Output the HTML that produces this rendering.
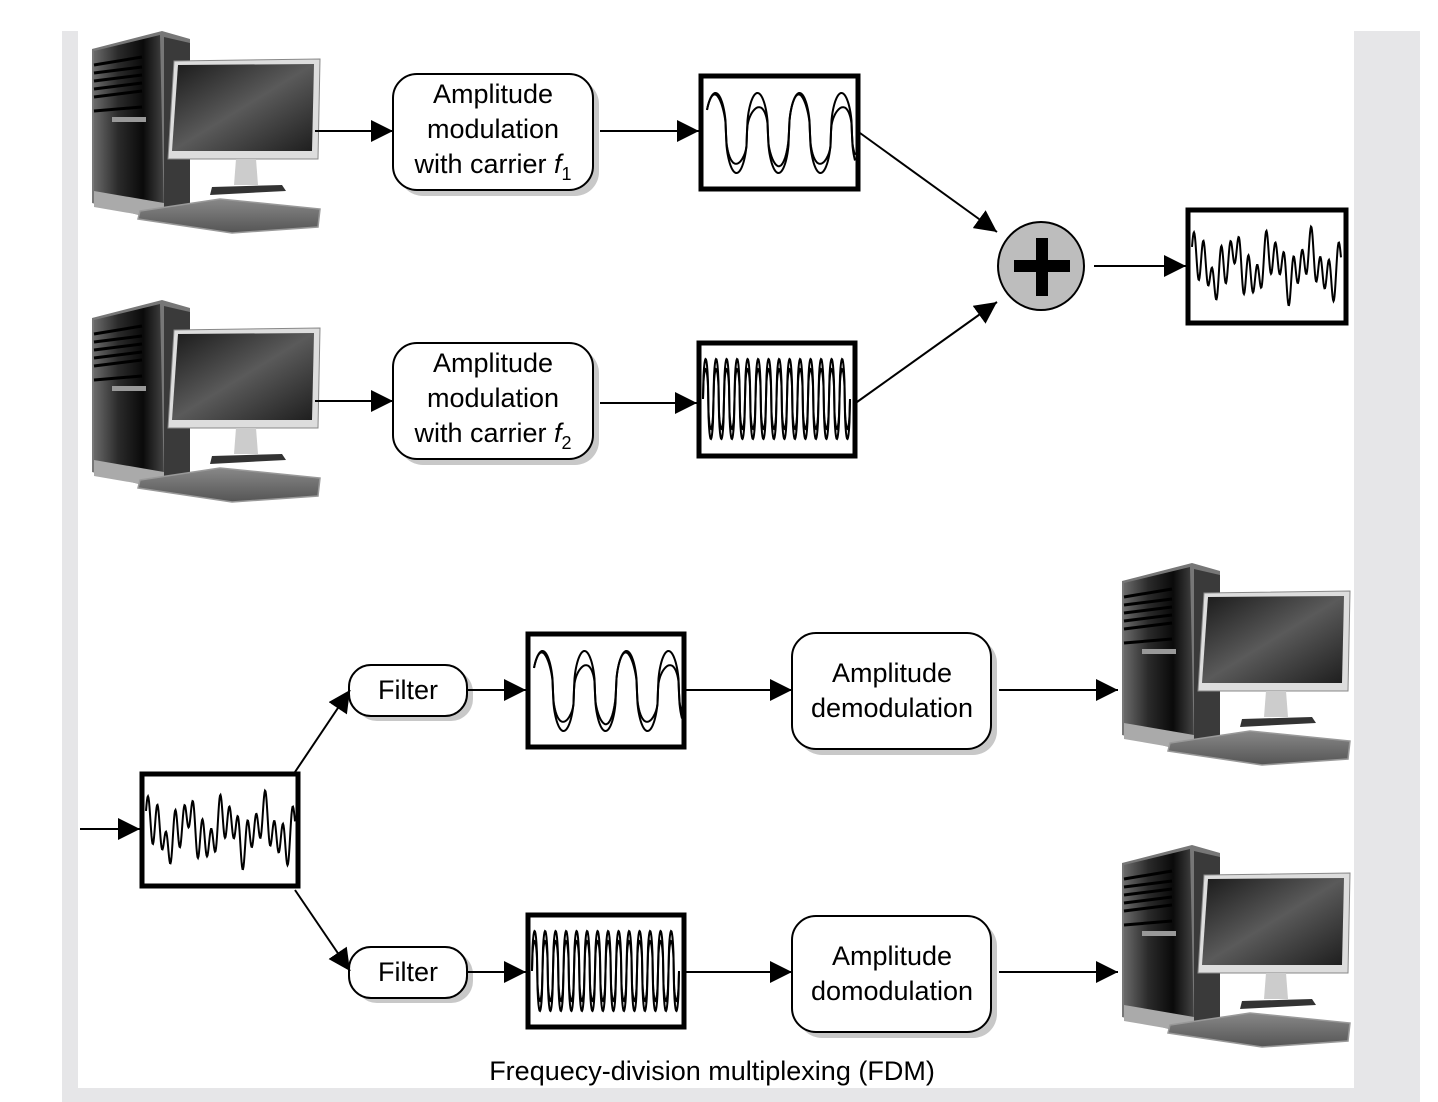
<!DOCTYPE html>
<html><head><meta charset="utf-8">
<style>
html,body{margin:0;padding:0;background:#fff;}
body{width:1438px;height:1102px;overflow:hidden;position:relative;font-family:"Liberation Sans",sans-serif;}
svg{position:absolute;left:0;top:0;}
</style></head>
<body>
<svg id="s" width="1438" height="1102" viewBox="0 0 1438 1102" xmlns="http://www.w3.org/2000/svg">
<defs>
<marker id="ah" markerWidth="22" markerHeight="22" refX="20" refY="10" orient="auto" markerUnits="userSpaceOnUse" viewBox="0 0 20 20">
<path d="M0,0 L20,10 L0,20 z" fill="#000"/></marker>
<linearGradient id="tower" x1="0" x2="1" y1="0" y2="0">
<stop offset="0" stop-color="#6a6a6a"/><stop offset="0.35" stop-color="#2a2a2a"/><stop offset="0.7" stop-color="#0a0a0a"/><stop offset="1" stop-color="#444"/></linearGradient>
<linearGradient id="scr" x1="0" y1="0" x2="1" y2="1">
<stop offset="0" stop-color="#1a1a1a"/><stop offset="0.5" stop-color="#5a5a5a"/><stop offset="1" stop-color="#1e1e1e"/></linearGradient>
<linearGradient id="kb" x1="0" y1="0" x2="0" y2="1">
<stop offset="0" stop-color="#888"/><stop offset="1" stop-color="#555"/></linearGradient>
<g id="pc">
<path d="M0,18 L70,0 L98,8 L98,178 L70,190 L0,172 z" fill="#777"/>
<path d="M2,20 L68,4 L72,186 L2,170 z" fill="url(#tower)"/>
<path d="M72,6 L98,12 L98,176 L72,186 z" fill="#3a3a3a"/>
<g stroke="#000" stroke-width="3" fill="none">
<path d="M2,34 L50,26"/><path d="M2,42 L50,36"/><path d="M2,50 L50,44"/><path d="M2,58 L50,52"/><path d="M2,66 L50,60"/><path d="M2,80 L50,76"/></g>
<rect x="20" y="86" width="34" height="5" fill="#999"/>
<path d="M2,160 L72,172 L72,188 L2,176 z" fill="#aaa"/>
<path d="M82,30 L228,28 L226,128 L76,128 z" fill="#ddd" stroke="#888" stroke-width="1"/>
<path d="M86,34 L222,33 L220,120 L80,120 z" fill="url(#scr)"/>
<path d="M144,128 L164,128 L166,154 L142,154 z" fill="#ccc"/>
<path d="M120,156 L190,154 L194,160 L118,164 z" fill="#333"/>
<path d="M48,180 L128,168 L228,178 L226,196 L140,202 L46,188 z" fill="url(#kb)" stroke="#999" stroke-width="1.5"/>
</g>
</defs>
<rect x="62" y="31" width="1358" height="1071" fill="#e6e6e8"/>
<rect x="78" y="31" width="1276" height="1057" fill="#fff"/>

<use href="#pc" x="92" y="31"/>
<use href="#pc" x="92" y="300"/>
<use href="#pc" x="1122" y="563"/>
<use href="#pc" x="1122" y="845"/>

<g fill="#c8c8c8">
<rect x="399" y="80" width="200" height="116" rx="24"/>
<rect x="399" y="349" width="200" height="116" rx="24"/>
<rect x="355" y="670" width="118" height="51" rx="22"/>
<rect x="355" y="952" width="118" height="51" rx="22"/>
<rect x="798" y="639" width="199" height="116" rx="24"/>
<rect x="798" y="922" width="199" height="116" rx="24"/>
</g>
<g fill="#fff" stroke="#000" stroke-width="2">
<rect x="393" y="74" width="200" height="116" rx="24"/>
<rect x="393" y="343" width="200" height="116" rx="24"/>
<rect x="349" y="665" width="118" height="51" rx="22"/>
<rect x="349" y="947" width="118" height="51" rx="22"/>
<rect x="792" y="633" width="199" height="116" rx="24"/>
<rect x="792" y="916" width="199" height="116" rx="24"/>
</g>
<g fill="#fff" stroke="#000" stroke-width="5">
<rect x="701" y="76" width="157" height="113"/>
<rect x="699" y="343" width="156" height="113"/>
<rect x="1188" y="210" width="158" height="113"/>
<rect x="142" y="774" width="156" height="112"/>
<rect x="528" y="634" width="156" height="113"/>
<rect x="528" y="915" width="156" height="112"/>
</g>
<g id="waves" fill="none" stroke="#000" stroke-width="2"></g>

<ellipse cx="1041" cy="266" rx="43" ry="44" fill="#bdbdbd" stroke="#000" stroke-width="2"/>
<rect x="1014" y="260" width="56" height="12" fill="#000"/>
<rect x="1036" y="238" width="12" height="58" fill="#000"/>

<g stroke="#000" stroke-width="2" marker-end="url(#ah)">
<line x1="315" y1="131" x2="393" y2="131"/>
<line x1="600" y1="131" x2="699" y2="131"/>
<line x1="315" y1="401" x2="393" y2="401"/>
<line x1="600" y1="403" x2="697" y2="403"/>
<line x1="860" y1="133" x2="997" y2="232"/>
<line x1="857" y1="402" x2="997" y2="302"/>
<line x1="1094" y1="266" x2="1186" y2="266"/>
<line x1="80" y1="829" x2="140" y2="829"/>
<line x1="295" y1="772" x2="350" y2="690"/>
<line x1="295" y1="890" x2="350" y2="971"/>
<line x1="467" y1="690" x2="526" y2="690"/>
<line x1="686" y1="690" x2="792" y2="690"/>
<line x1="999" y1="690" x2="1118" y2="690"/>
<line x1="467" y1="972" x2="526" y2="972"/>
<line x1="686" y1="972" x2="792" y2="972"/>
<line x1="999" y1="972" x2="1118" y2="972"/>
</g>

<g font-family="Liberation Sans, sans-serif" font-size="27" text-anchor="middle" fill="#000">
<text x="493" y="103">Amplitude</text>
<text x="493" y="138">modulation</text>
<text x="493" y="173">with carrier <tspan font-style="italic">f</tspan><tspan font-size="18" dy="7">1</tspan></text>
<text x="493" y="372">Amplitude</text>
<text x="493" y="407">modulation</text>
<text x="493" y="442">with carrier <tspan font-style="italic">f</tspan><tspan font-size="18" dy="7">2</tspan></text>
<text x="408" y="699">Filter</text>
<text x="408" y="981">Filter</text>
<text x="892" y="682">Amplitude</text>
<text x="892" y="717">demodulation</text>
<text x="892" y="965">Amplitude</text>
<text x="892" y="1000">domodulation</text>
<text x="712" y="1080">Frequecy-division multiplexing (FDM)</text>
</g>
</svg>
<script>
(function(){
var g=document.getElementById('waves');
function add(d){var p=document.createElementNS('http://www.w3.org/2000/svg','path');p.setAttribute('d',d);g.appendChild(p);}
function sq(t){var s=Math.sin(t);return Math.sign(s)*Math.pow(Math.abs(s),0.45);}
function wave(x0,x1,cy,f){var d='';for(var x=x0;x<=x1;x+=0.5){var y=f(x-x0);d+=(x==x0?'M':'L')+x.toFixed(1)+','+(cy+y).toFixed(1);}add(d);}
function slow(bx,by){
 wave(bx+4,bx+152,by+57,function(u){return -40*sq(u/42*2*Math.PI+0.3);});
 wave(bx+4,bx+152,by+57,function(u){var a=40*(0.8+0.2*Math.cos(u/84*2*Math.PI));return -a*sq(u/42*2*Math.PI+0.3)+ (sq(u/42*2*Math.PI+0.3)<0?-6*Math.cos(u/84*2*Math.PI):0);});
}
slow(703,76); slow(530,634);
function fast(bx,by){
 wave(bx+4,bx+151,by+56,function(u){return -40*sq(u/10.5*2*Math.PI);});
 wave(bx+4,bx+151,by+56,function(u){return -30*sq(u/10.5*2*Math.PI);});
}
fast(699,343); fast(528,915);
function mix(bx,by){
 wave(bx+4,bx+153,by+56,function(u){return -(18*Math.sin(u/9*2*Math.PI)+14*Math.sin(u/38*2*Math.PI+1)+8*Math.sin(u/15*2*Math.PI+2));});
}
mix(1188,210); mix(142,774);
})();
</script>
</body></html>
